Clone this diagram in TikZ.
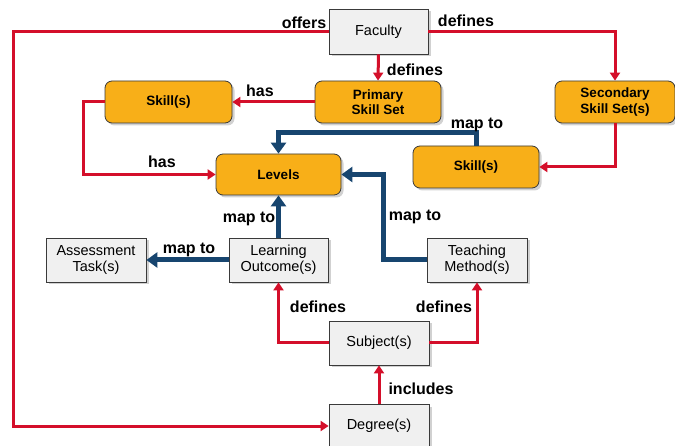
\documentclass[tikz,border=0pt]{standalone}
\usepackage{fontspec}
\setmainfont{Liberation Sans}
\usetikzlibrary{arrows.meta,shadows}
\definecolor{ored}{HTML}{D40F2A}
\definecolor{oblue}{HTML}{17456F}
\definecolor{orfill}{HTML}{F8AF18}
\definecolor{grfill}{HTML}{F0F0F0}
\definecolor{bdr}{HTML}{3A3A3A}
\begin{document}
\begin{tikzpicture}[x=1pt,y=-1pt,
  shad/.style={drop shadow={shadow xshift=2.5pt,shadow yshift=-2.5pt,opacity=0.3,fill=black!60}},
  orbox/.style={shad,draw=bdr,line width=0.8pt,fill=orfill,rounded corners=7pt,align=center,
     font=\fontsize{13.5}{15.5}\selectfont\bfseries,inner sep=0pt},
  grbox/.style={shad,draw=bdr,line width=0.8pt,fill=grfill,align=center,
     font=\fontsize{14.5}{16}\selectfont,inner sep=0pt},
  redarr/.style={draw=ored,line width=3pt,-{Triangle[length=8pt,width=10pt]}},
  bluearr/.style={draw=oblue,line width=5pt,-{Triangle[length=11pt,width=15pt]}},
  lbl/.style={font=\fontsize{16}{18}\selectfont\bfseries,inner sep=0pt}]
\useasboundingbox (0,0) rectangle (675,446);
% nodes
\node[grbox,minimum width=99pt,minimum height=45pt] (fac) at (378.5,31.5) {Faculty};
\node[orbox,minimum width=126pt,minimum height=42pt] (prim) at (378,102) {Primary\\Skill Set};
\node[orbox,minimum width=120pt,minimum height=42pt] (sec) at (615,102) {Secondary\\Skill Set(s)};
\node[orbox,minimum width=127pt,minimum height=42pt] (skl) at (168.5,102) {Skill(s)};
\node[orbox,minimum width=125pt,minimum height=41pt] (lev) at (278.5,174.5) {Levels};
\node[orbox,minimum width=126pt,minimum height=42pt] (skr) at (476,167) {Skill(s)};
\node[grbox,minimum width=99pt,minimum height=44pt] (lo) at (278.5,260) {Learning\\Outcome(s)};
\node[grbox,minimum width=100pt,minimum height=44pt] (at) at (96,260) {Assessment\\Task(s)};
\node[grbox,minimum width=100pt,minimum height=44pt] (tm) at (477,260) {Teaching\\Method(s)};
\node[grbox,minimum width=100pt,minimum height=44pt] (sub) at (379,343) {Subject(s)};
\node[grbox,minimum width=100pt,minimum height=44pt] (deg) at (379,426) {Degree(s)};
% helper coordinates
\coordinate (lc) at (13,31.5);
\coordinate (skc) at (83,102);
\coordinate (mapc) at (476,133);
\coordinate (tmc) at (383,260);
% red connectors
\draw[redarr] (fac.south) -- (prim.north);
\draw[redarr] (fac.east) -| (sec.north);
\draw[redarr] (fac.west) -- (lc) |- (deg.west);
\draw[redarr] (prim.west) -- (skl.east);
\draw[redarr] (skl.west) -- (skc) |- (lev.west);
\draw[redarr] (sec.south) |- (skr.east);
\draw[redarr] (sub.west) -| (lo.south);
\draw[redarr] (sub.east) -| (tm.south);
\draw[redarr] (deg.north) -- (sub.south);
% blue connectors
\draw[bluearr] (skr.north) -- (mapc) -| (lev.north);
\draw[bluearr] (lo.north) -- (lev.south);
\draw[bluearr] (lo.west) -- (at.east);
\draw[bluearr] (tm.west) -- (tmc) |- (lev.east);
% labels
\node[lbl] (l1) at (304,23) {offers};
\node[lbl] (l2) at (466,21) {defines};
\node[lbl] (l3) at (415,70) {defines};
\node[lbl] (l4) at (260,91) {has};
\node[lbl] (l5) at (162,162) {has};
\node[lbl] (l6) at (477,125) {map to};
\node[lbl] (l7) at (249,219) {map to};
\node[lbl] (l8) at (189,250) {map to};
\node[lbl] (l9) at (415,217) {map to};
\node[lbl] (l10) at (318,307) {defines};
\node[lbl] (l11) at (444,307) {defines};
\node[lbl] (l12) at (421,389) {includes};
\end{tikzpicture}
\end{document}
